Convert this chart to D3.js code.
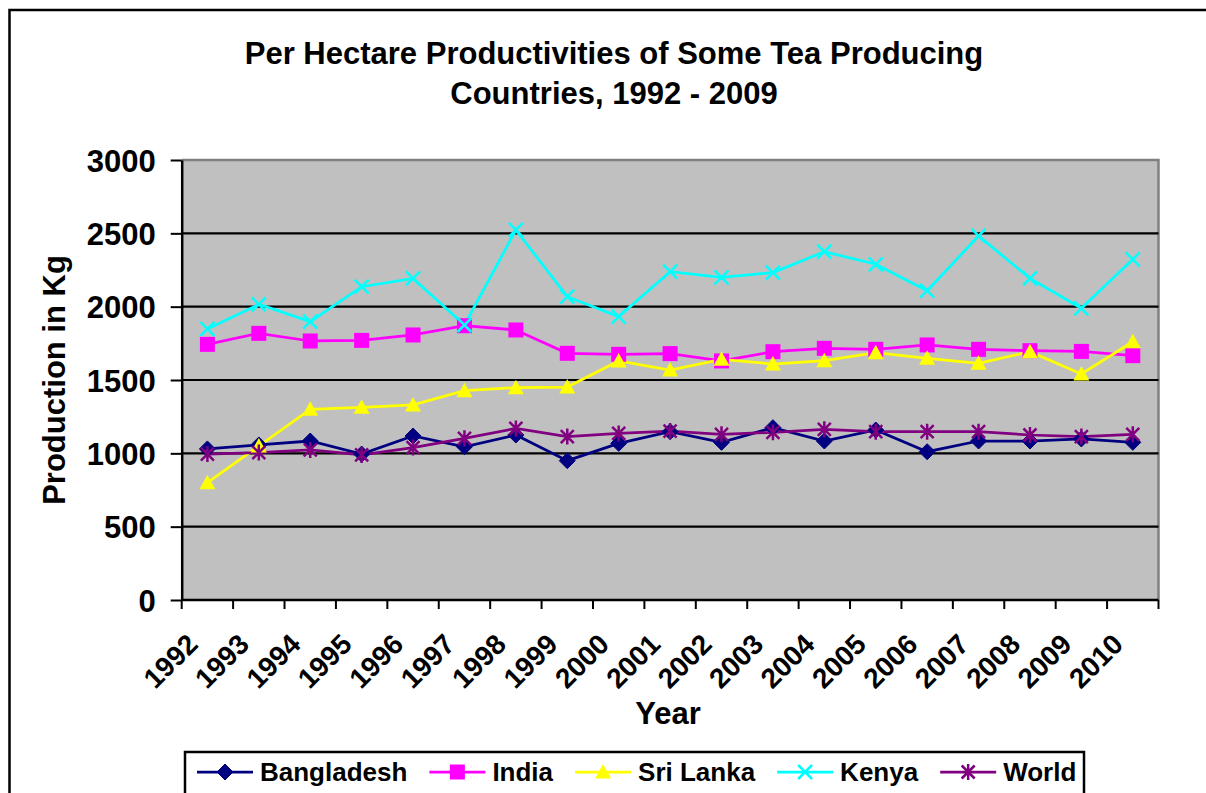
<!DOCTYPE html>
<html>
<head>
<meta charset="utf-8">
<script src="https://cdn.jsdelivr.net/npm/d3@7"></script>
<style>
  html, body { margin: 0; padding: 0; background: #fff; }
  svg { display: block; }
  text { font-family: "Liberation Sans", Arial, sans-serif; font-weight: bold; fill: #000; }
</style>
</head>
<body>
<svg id="chart" width="1206" height="793"></svg>
<script>
// ---------- data ----------
const years = ["1992","1993","1994","1995","1996","1997","1998","1999","2000","2001",
               "2002","2003","2004","2005","2006","2007","2008","2009","2010"];
const bangladesh = [1030,1057,1084,995,1118,1045,1125,950,1068,1148,1075,1175,1084,1159,1011,1084,1084,1098,1075];
const india      = [1743,1818,1766,1770,1807,1870,1841,1682,1675,1680,1630,1693,1716,1709,1739,1709,1700,1695,1666];
const sriLanka   = [800,1050,1300,1314,1330,1427,1448,1452,1630,1568,1641,1609,1632,1686,1648,1614,1693,1541,1761];
const kenya      = [1848,2016,1898,2136,2193,1875,2523,2068,1932,2239,2200,2232,2375,2289,2109,2482,2193,1989,2323];
const world      = [995,1005,1023,989,1039,1102,1170,1114,1136,1152,1130,1143,1164,1148,1148,1148,1125,1114,1130];
const yTicks = [0,500,1000,1500,2000,2500,3000];
const seriesNames = ["Bangladesh","India","Sri Lanka","Kenya","World"];
const titleLines = ["Per Hectare Productivities of Some Tea Producing","Countries, 1992 - 2009"];

// ---------- setup ----------
const series = [
  {name: seriesNames[0], values: bangladesh, color: "#000080", marker: "diamond"},
  {name: seriesNames[1], values: india,      color: "#FF00FF", marker: "square"},
  {name: seriesNames[2], values: sriLanka,   color: "#FFFF00", marker: "triangle"},
  {name: seriesNames[3], values: kenya,      color: "#00FFFF", marker: "x"},
  {name: seriesNames[4], values: world,      color: "#800080", marker: "star"}
];

const svg = d3.select("#chart");
const plot = {left: 181.7, right: 1158.5, top: 160, bottom: 600};

const x = d3.scaleBand().domain(years).range([plot.left, plot.right]).padding(0);
const y = d3.scaleLinear().domain([0, 3000]).range([plot.bottom, plot.top]);
const cx = d => x(d) + x.bandwidth() / 2;

// outer chart border
svg.append("rect").attr("x", 9.5).attr("y", 10).attr("width", 1220).attr("height", 820)
  .attr("fill", "#fff").attr("stroke", "#000").attr("stroke-width", 2.5);

// title
svg.append("g").selectAll("text").data(titleLines).join("text")
  .attr("x", 614).attr("y", (d, i) => 64 + i * 40)
  .attr("text-anchor", "middle").style("font-size", "31px").text(d => d);

// plot background
svg.append("rect").attr("x", plot.left).attr("y", plot.top)
  .attr("width", plot.right - plot.left).attr("height", plot.bottom - plot.top)
  .attr("fill", "#C0C0C0");

// top and right border (gray)
svg.append("path")
  .attr("d", `M${plot.left},${plot.top}H${plot.right}V${plot.bottom}`)
  .attr("fill", "none").attr("stroke", "#808080").attr("stroke-width", 2.5);

// gridlines
svg.append("g").selectAll("line").data(yTicks.filter(t => t > 0 && t < 3000)).join("line")
  .attr("x1", plot.left).attr("x2", plot.right)
  .attr("y1", d => y(d)).attr("y2", d => y(d))
  .attr("stroke", "#000").attr("stroke-width", 2.2);

// y axis
const yAxis = svg.append("g").attr("transform", `translate(${plot.left},0)`)
  .call(d3.axisLeft(y).tickValues(yTicks).tickFormat(d3.format("d"))
    .tickSize(11).tickSizeOuter(0).tickPadding(15));
yAxis.select(".domain").attr("stroke", "#000").attr("stroke-width", 2.5);
yAxis.selectAll(".tick line").attr("stroke", "#000").attr("stroke-width", 2);
yAxis.selectAll(".tick text").style("font-size", "31px").style("font-family", "'Liberation Sans', Arial, sans-serif")
  .style("font-weight", "bold").attr("fill", "#000").attr("dy", "0.36em");

// x axis
const xAxis = svg.append("g").attr("transform", `translate(0,${plot.bottom})`);
xAxis.append("line").attr("x1", plot.left).attr("x2", plot.right).attr("y1", 0).attr("y2", 0)
  .attr("stroke", "#000").attr("stroke-width", 2.5);
const boundaries = years.map(d => x(d)).concat([x(years[years.length - 1]) + x.bandwidth()]);
xAxis.selectAll("line.tk").data(boundaries).join("line").attr("class", "tk")
  .attr("x1", d => d).attr("x2", d => d).attr("y1", 0).attr("y2", 9)
  .attr("stroke", "#000").attr("stroke-width", 2);
xAxis.selectAll("text.lbl").data(years).join("text").attr("class", "lbl")
  .attr("transform", d => `translate(${cx(d) - 8},46) rotate(-45)`)
  .attr("text-anchor", "end").style("font-size", "28px").text(d => d);

// axis titles
svg.append("text").attr("x", 668).attr("y", 724).attr("text-anchor", "middle")
  .style("font-size", "31px").text("Year");
svg.append("text").attr("transform", "translate(65,380) rotate(-90)").attr("text-anchor", "middle")
  .style("font-size", "31px").text("Production in Kg");

// markers
function drawMarker(g, type, color) {
  const s = 8;
  if (type === "diamond") {
    g.append("path").attr("d", `M0,${-s}L${s},0L0,${s}L${-s},0Z`).attr("fill", color).attr("stroke", color).attr("stroke-width", 1);
  } else if (type === "square") {
    g.append("rect").attr("x", -7.5).attr("y", -7.5).attr("width", 15).attr("height", 15).attr("fill", color);
  } else if (type === "triangle") {
    g.append("path").attr("d", `M0,-8L8,6.5L-8,6.5Z`).attr("fill", color);
  } else if (type === "x") {
    g.append("path").attr("d", `M-7,-7L7,7M-7,7L7,-7`).attr("stroke", color).attr("stroke-width", 2.5).attr("fill", "none");
  } else if (type === "star") {
    g.append("path").attr("d", `M-6.5,-6.5L6.5,6.5M-6.5,6.5L6.5,-6.5M0,-8L0,8`).attr("stroke", color).attr("stroke-width", 2.5).attr("fill", "none");
  }
}

const line = d3.line().x((d, i) => cx(years[i])).y(d => y(d));
series.forEach(s => {
  svg.append("path").datum(s.values).attr("d", line)
    .attr("fill", "none").attr("stroke", s.color).attr("stroke-width", 2.75);
});
series.forEach(s => {
  s.values.forEach((v, i) => {
    const g = svg.append("g").attr("transform", `translate(${cx(years[i])},${y(v)})`);
    drawMarker(g, s.marker, s.color);
  });
});

// legend
const legend = svg.append("g");
legend.append("rect").attr("x", 185).attr("y", 752).attr("width", 899).attr("height", 60)
  .attr("fill", "#fff").attr("stroke", "#000").attr("stroke-width", 2.5);
let lx = 197;
const ly = 772;
series.forEach(s => {
  const g = legend.append("g");
  g.append("line").attr("x1", lx).attr("x2", lx + 56).attr("y1", ly).attr("y2", ly)
    .attr("stroke", s.color).attr("stroke-width", 2.75);
  const m = g.append("g").attr("transform", `translate(${lx + 28},${ly})`);
  drawMarker(m, s.marker, s.color);
  const t = g.append("text").attr("x", lx + 63).attr("y", ly + 9).style("font-size", "26px").text(s.name);
  lx = lx + 63 + t.node().getComputedTextLength() + 22;
});
</script>
</body>
</html>
